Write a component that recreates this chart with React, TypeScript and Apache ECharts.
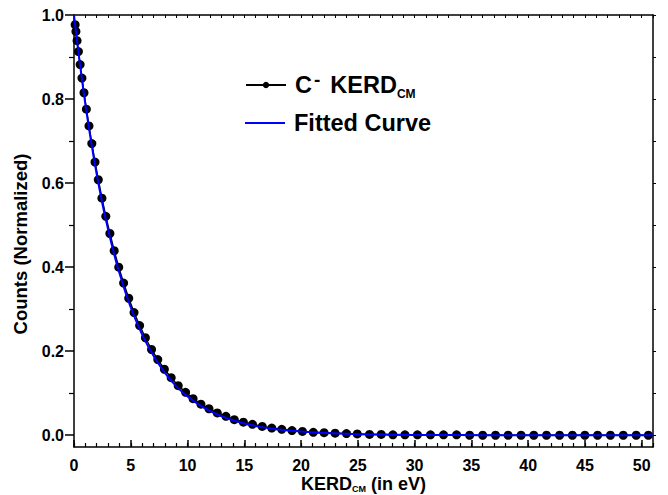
import React, { useEffect, useRef } from 'react';
import * as echarts from 'echarts';

const pointX = [0.10, 0.17, 0.27, 0.39, 0.54, 0.70, 0.88, 1.09, 1.32, 1.57, 1.85, 2.14, 2.46, 2.80, 3.16, 3.54, 3.94, 4.37, 4.82, 5.29, 5.78, 6.29, 6.83, 7.38, 7.96, 8.56, 9.18, 9.83, 10.49, 11.18, 11.89, 12.62, 13.38, 14.12, 14.92, 15.72, 16.58, 17.42, 18.30, 19.20, 20.12, 21.08, 22.03, 23.00, 24.00, 24.95, 26.03, 27.06, 28.09, 29.15, 30.25, 31.40, 32.55, 33.70, 34.85, 36.00, 37.13, 38.24, 39.38, 40.50, 41.62, 42.77, 43.90, 45.00, 46.12, 47.25, 48.38, 49.52, 50.59];
const pointY = [0.977, 0.961, 0.939, 0.913, 0.882, 0.850, 0.815, 0.776, 0.736, 0.694, 0.650, 0.608, 0.564, 0.521, 0.480, 0.439, 0.400, 0.362, 0.326, 0.292, 0.261, 0.232, 0.204, 0.180, 0.157, 0.137, 0.118, 0.102, 0.087, 0.074, 0.063, 0.053, 0.045, 0.037, 0.031, 0.026, 0.021, 0.017, 0.014, 0.011, 0.009, 0.007, 0.006, 0.005, 0.004, 0.003, 0.002, 0.002, 0.001, 0.001, 0.001, 0.001, 0.001, 0.001, 0, 0, 0, 0, 0, 0, 0, 0, 0, 0, 0, 0, 0, 0, 0];

const fitX = [0, 0.5, 1, 1.5, 2, 2.5, 3, 3.5, 4, 5, 6, 7, 8, 9, 10, 11, 12, 13, 14, 15, 16, 17, 18, 20, 22, 25, 28, 32, 36, 40, 45, 51];
const fitY = [1.0, 0.888, 0.788, 0.700, 0.621, 0.551, 0.490, 0.435, 0.386, 0.304, 0.240, 0.189, 0.149, 0.117, 0.0925, 0.0729, 0.0574, 0.0453, 0.0357, 0.0281, 0.0222, 0.0175, 0.0138, 0.0086, 0.0053, 0.0026, 0.0013, 0.0005, 0.0002, 0.0001, 0, 0];

const xMajorTicks = [0, 5, 10, 15, 20, 25, 30, 35, 40, 45, 50];
const yMajorTicks = [0, 0.2, 0.4, 0.6, 0.8, 1.0];
const yMinorTicks = [0.1, 0.3, 0.5, 0.7, 0.9];
const yAllTicks = [0, 0.1, 0.2, 0.3, 0.4, 0.5, 0.6, 0.7, 0.8, 0.9, 1.0];

const seriesPointsName = 'C- KERD_CM';
const seriesFitName = 'Fitted Curve';

const FONT = '"Liberation Sans", Arial, Helvetica, sans-serif';
const X_MIN = 0;
const X_MAX = 51;
const Y_MIN = -0.028;
const Y_MAX = 1.0;

export default function App() {
  const ref = useRef<HTMLDivElement>(null);

  useEffect(() => {
    document.body.style.margin = '0';
    const chart = echarts.init(ref.current as HTMLDivElement, null, { renderer: 'svg' });
    const axisLineStyle = { color: '#000', width: 1.5 };
    chart.setOption({
      animation: false,
      backgroundColor: '#fff',
      textStyle: { fontFamily: FONT },
      grid: { left: 74, right: 15, top: 15, bottom: 48, containLabel: false, outerBoundsMode: 'none' },
      legend: [
        {
          data: [seriesPointsName],
          left: 245,
          top: 70,
          padding: 0,
          itemWidth: 40,
          itemHeight: 8,
          formatter: () => '{c|C}{sup|-}{a|KERD}{sub|CM}',
          textStyle: {
            rich: {
              c: { fontSize: 23.5, fontWeight: 'bold', color: '#000', fontFamily: FONT, lineHeight: 30, padding: [0, 0, 0, 4] },
              a: { fontSize: 23.5, fontWeight: 'bold', color: '#000', fontFamily: FONT, lineHeight: 30 },
              sup: { fontSize: 19, fontWeight: 'bold', color: '#000', fontFamily: FONT, lineHeight: 14, verticalAlign: 'top', padding: [0, 10, 0, 2] },
              sub: { fontSize: 12, fontWeight: 'bold', color: '#000', fontFamily: FONT, lineHeight: 12, verticalAlign: 'bottom' },
            },
          },
        },
        {
          data: [{ name: seriesFitName, icon: 'rect' }],
          left: 245,
          top: 111,
          padding: 0,
          itemWidth: 40,
          itemHeight: 2,
          formatter: () => '{f|Fitted Curve}',
          textStyle: {
            rich: {
              f: { fontSize: 23.5, fontWeight: 'bold', color: '#000', fontFamily: FONT, lineHeight: 24, padding: [0, 0, 0, 4] },
            },
          },
        },
      ],
      xAxis: [
        {
          type: 'value',
          position: 'bottom',
          min: X_MIN,
          max: X_MAX,
          name: '{a|KERD}{sub|CM}{a| (in eV)}',
          nameLocation: 'middle',
          nameGap: 27,
          nameMoveOverlap: false,
          nameTextStyle: {
            rich: {
              a: { fontSize: 18, fontWeight: 'bold', color: '#000', fontFamily: FONT, lineHeight: 19 },
              sub: { fontSize: 9, fontWeight: 'bold', color: '#000', fontFamily: FONT, lineHeight: 9, verticalAlign: 'bottom' },
            },
          },
          axisLine: { show: true, onZero: false, lineStyle: axisLineStyle },
          axisTick: { show: true, inside: true, length: 7, lineStyle: { color: '#000', width: 1.5 }, customValues: xMajorTicks },
          axisLabel: {
            show: true,
            customValues: xMajorTicks,
            margin: 10,
            fontSize: 16,
            lineHeight: 16,
            fontWeight: 'bold',
            color: '#000',
            fontFamily: FONT,
          },
          splitLine: { show: false },
        },
        {
          type: 'value',
          position: 'bottom',
          min: X_MIN,
          max: X_MAX,
          interval: 1,
          axisLine: { show: false, onZero: false },
          axisTick: { show: true, inside: true, length: 4, lineStyle: { color: '#000', width: 1.2 } },
          axisLabel: { show: false },
          splitLine: { show: false },
        },
        {
          type: 'value',
          position: 'top',
          min: X_MIN,
          max: X_MAX,
          interval: 1,
          axisLine: { show: true, onZero: false, lineStyle: axisLineStyle },
          axisTick: { show: true, inside: true, length: 3, lineStyle: { color: '#000', width: 1 } },
          axisLabel: { show: false },
          splitLine: { show: false },
        },
      ],
      yAxis: [
        {
          type: 'value',
          position: 'left',
          min: Y_MIN,
          max: Y_MAX,
          name: 'Counts (Normalized)',
          nameLocation: 'middle',
          nameGap: 44,
          nameMoveOverlap: false,
          nameTextStyle: { fontSize: 18.5, fontWeight: 'bold', color: '#000', fontFamily: FONT, padding: [0, 26, 0, 0] },
          axisLine: { show: true, onZero: false, lineStyle: axisLineStyle },
          axisTick: { show: true, inside: false, length: 9, lineStyle: { color: '#000', width: 1.5 }, customValues: yMajorTicks },
          axisLabel: {
            show: true,
            customValues: yMajorTicks,
            margin: 10,
            fontSize: 16,
            fontWeight: 'bold',
            color: '#000',
            fontFamily: FONT,
            formatter: (v: number) => v.toFixed(1),
          },
          splitLine: { show: false },
        },
        {
          type: 'value',
          position: 'left',
          min: Y_MIN,
          max: Y_MAX,
          axisLine: { show: false, onZero: false },
          axisTick: { show: true, inside: false, length: 5, lineStyle: { color: '#000', width: 1.2 }, customValues: yMinorTicks },
          axisLabel: { show: false, customValues: yMinorTicks },
          splitLine: { show: false },
        },
        {
          type: 'value',
          position: 'right',
          min: Y_MIN,
          max: Y_MAX,
          axisLine: { show: true, onZero: false, lineStyle: axisLineStyle },
          axisTick: { show: true, inside: false, length: 3, lineStyle: { color: '#000', width: 1 }, customValues: yAllTicks },
          axisLabel: { show: false, customValues: yAllTicks },
          splitLine: { show: false },
        },
      ],
      series: [
        {
          name: seriesPointsName,
          type: 'line',
          xAxisIndex: 0,
          yAxisIndex: 0,
          data: pointX.map((x, i) => [x, pointY[i]]),
          symbol: 'circle',
          symbolSize: 9,
          showAllSymbol: true,
          itemStyle: { color: '#000' },
          lineStyle: { color: '#000', width: 1.5 },
          z: 2,
        },
        {
          name: seriesFitName,
          type: 'line',
          xAxisIndex: 0,
          yAxisIndex: 0,
          data: fitX.map((x, i) => [x, fitY[i]]),
          smooth: true,
          showSymbol: false,
          symbol: 'none',
          itemStyle: { color: '#0000ff' },
          lineStyle: { color: '#0000ff', width: 2 },
          z: 3,
        },
      ],
    });
    return () => chart.dispose();
  }, []);

  return <div ref={ref} style={{ width: 668, height: 495 }} />;
}
